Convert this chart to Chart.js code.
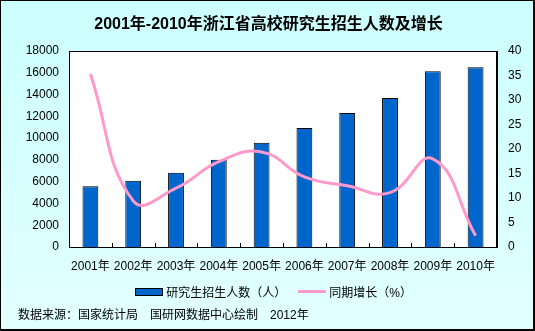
<!DOCTYPE html>
<html lang="zh">
<head>
<meta charset="UTF-8">
<title>2001年-2010年浙江省高校研究生招生人数及增长</title>
<script src="https://cdn.jsdelivr.net/npm/chart.js"></script>
<style>
    body { margin: 0; }
    #wrap {
        position: relative;
        width: 535px;
        height: 331px;
        box-sizing: border-box;
        border: 1px solid #000;
        border-right-width: 2px;
        border-bottom-width: 2px;
        background: linear-gradient(#ccffff, #e2ffff);
        font-family: "Liberation Sans", "Noto Sans CJK SC", sans-serif;
        overflow: hidden;
    }
    #chart { position: absolute; left: -1px; top: -1px; }
    .title {
        position: absolute; left: 0; width: 535px; top: 9px;
        text-align: center; font-size: 16px; font-weight: bold;
    }
    .legend { position: absolute; top: 282px; font-size: 12px; }
    .legend span { display: inline-block; vertical-align: middle; }
    .source { position: absolute; left: 17px; top: 304px; font-size: 12px; }
</style>
</head>
<body>
<div id="wrap">
    <canvas id="chart" width="535" height="331"></canvas>
    <div class="title">2001年-2010年浙江省高校研究生招生人数及增长</div>
    <div class="legend" style="left:134px">
        <span style="width:26px;height:6px;background:#0066cc;border:1px solid #000;"></span>
        <span>研究生招生人数（人）</span>
    </div>
    <div class="legend" style="left:297px">
        <span style="width:28px;height:3px;background:#ff99cc;"></span>
        <span>同期增长（%）</span>
    </div>
    <div class="source">数据来源：国家统计局　国研网数据中心绘制　2012年</div>
</div>
<script>
    const years = ['2001年', '2002年', '2003年', '2004年', '2005年', '2006年', '2007年', '2008年', '2009年', '2010年'];
    const students = [5570, 6090, 6820, 8010, 9570, 10940, 12310, 13680, 16150, 16510];
    const growth = [35.3, 9.4, 12.0, 17.4, 19.4, 14.3, 12.5, 11.1, 18.0, 2.3];

    const tickFont = { family: '"Liberation Sans", "Noto Sans CJK SC", sans-serif', size: 12 };

    new Chart(document.getElementById('chart'), {
        data: {
            labels: years,
            datasets: [
                {
                    type: 'line',
                    label: '同期增长（%）',
                    data: growth,
                    yAxisID: 'y1',
                    borderColor: '#ff99cc',
                    borderWidth: 3,
                    pointRadius: 0,
                    tension: 0.45,
                    order: 0
                },
                {
                    type: 'bar',
                    label: '研究生招生人数（人）',
                    data: students,
                    yAxisID: 'y',
                    backgroundColor: '#0066cc',
                    borderColor: '#000',
                    borderWidth: 1,
                    categoryPercentage: 1,
                    barPercentage: 0.37,
                    order: 1
                }
            ]
        },
        options: {
            responsive: false,
            animation: false,
            layout: { padding: { left: 0, right: 0, top: 51, bottom: 55 } },
            plugins: { legend: { display: false }, tooltip: { enabled: false } },
            scales: {
                x: {
                    grid: { display: false, drawTicks: false },
                    border: { color: '#000', width: 1 },
                    ticks: { color: '#000', font: tickFont, padding: 12, maxRotation: 0, autoSkip: false },
                    afterFit: s => { s.height = 29; }
                },
                y: {
                    position: 'left',
                    min: 0, max: 18000,
                    grid: { display: false, drawTicks: false },
                    border: { color: '#000', width: 1 },
                    ticks: { stepSize: 2000, color: '#000', font: tickFont, padding: 10, callback: v => String(v) },
                    afterFit: s => { s.width = 69; }
                },
                y1: {
                    position: 'right',
                    min: 0, max: 40,
                    grid: { display: false, drawTicks: false },
                    border: { color: '#000', width: 1 },
                    ticks: { stepSize: 5, color: '#000', font: tickFont, padding: 11, callback: v => String(v) },
                    afterFit: s => { s.width = 38; }
                }
            }
        },
        plugins: [{
            id: 'plotBg',
            beforeDraw(chart) {
                const a = chart.chartArea, ctx = chart.ctx;
                ctx.save();
                ctx.fillStyle = '#fff';
                ctx.fillRect(a.left, a.top, a.right - a.left, a.bottom - a.top);
                ctx.strokeStyle = '#000';
                ctx.lineWidth = 1;
                ctx.strokeRect(a.left + 0.5, a.top + 0.5, a.right - a.left - 1, a.bottom - a.top);
                // short category separator ticks on the x axis
                const x = chart.scales.x;
                for (let i = 1; i < years.length; i++) {
                    const px = Math.round((x.getPixelForTick(i - 1) + x.getPixelForTick(i)) / 2) + 0.5;
                    ctx.beginPath();
                    ctx.moveTo(px, a.bottom);
                    ctx.lineTo(px, a.bottom - 4);
                    ctx.stroke();
                }
                ctx.restore();
            }
        }]
    });
</script>
</body>
</html>
